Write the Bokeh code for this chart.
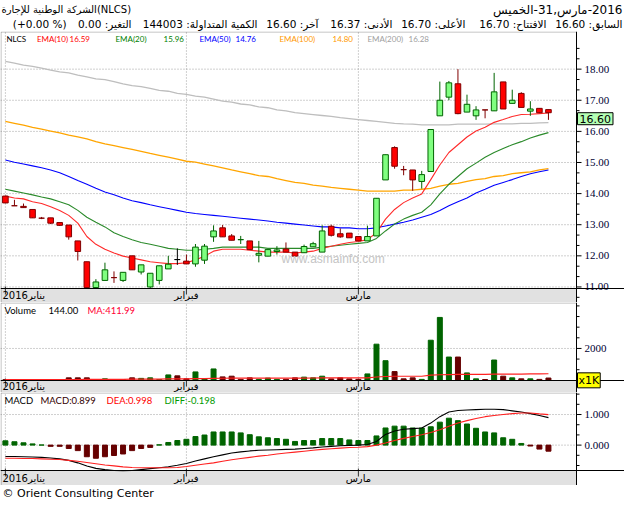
from bokeh.plotting import figure
from bokeh.models import Range1d, Label, ColumnDataSource, Span, BoxAnnotation
from bokeh.layouts import column
from bokeh.embed import file_html
from bokeh.resources import INLINE
import numpy as np

# ---------------- data ----------------
open_ = [13.92, 13.61, 13.59, 13.49, 13.21, 13.22, 13.07, 12.99, 12.48, 11.81,
         10.98, 11.21, 11.30, 11.21, 12.00, 11.48, 11.00, 11.21, 11.58, 11.88,
         11.83, 11.74, 11.86, 12.61, 12.90, 12.64, 12.52, 12.48, 12.02, 11.99,
         12.14, 12.22, 12.12, 12.10, 12.29, 12.12, 12.95, 12.71, 12.73, 12.62,
         12.48, 12.64, 14.44, 15.48, 14.77, 14.76, 14.39, 14.71, 16.50, 17.10,
         17.53, 16.62, 16.50, 16.69, 16.66, 17.59, 16.90, 17.22, 16.65, 16.74, 16.70]
high = [13.93, 13.80, 13.68, 13.49, 13.25, 13.22, 13.07, 12.99, 12.48, 11.81,
        11.25, 11.78, 11.50, 11.47, 12.00, 11.71, 11.44, 11.68, 12.00, 12.24,
        12.04, 12.38, 12.38, 12.98, 12.99, 12.70, 12.64, 12.48, 12.48, 12.20,
        12.31, 12.43, 12.12, 12.36, 12.45, 12.98, 13.00, 12.88, 12.73, 12.62,
        12.97, 13.85, 15.25, 15.52, 14.89, 14.76, 14.73, 16.06, 17.60, 17.62,
        18.00, 17.18, 16.81, 16.69, 17.88, 17.59, 17.34, 17.26, 16.97, 16.74, 16.70]
low = [13.69, 13.61, 13.55, 13.22, 13.18, 13.02, 12.96, 12.52, 11.85, 10.97,
       10.97, 11.21, 11.13, 11.16, 11.55, 11.40, 10.95, 11.08, 11.58, 11.71,
       11.74, 11.65, 11.74, 12.45, 12.61, 12.50, 12.38, 12.20, 11.79, 11.99,
       12.04, 12.12, 11.99, 12.10, 12.29, 12.12, 12.62, 12.58, 12.58, 12.48,
       12.48, 12.64, 14.44, 14.80, 14.59, 14.09, 14.16, 14.71, 16.50, 17.00,
       16.55, 16.62, 16.37, 16.42, 16.66, 16.72, 16.90, 16.77, 16.50, 16.60, 16.37]
close = [13.70, 13.61, 13.55, 13.22, 13.21, 13.05, 12.98, 12.61, 12.14, 10.98,
         11.16, 11.55, 11.30, 11.47, 11.55, 11.71, 11.44, 11.68, 11.73, 11.88,
         11.74, 12.28, 12.31, 12.80, 12.61, 12.50, 12.52, 12.20, 12.08, 12.20,
         12.19, 12.12, 11.99, 12.30, 12.39, 12.80, 12.66, 12.61, 12.58, 12.48,
         12.62, 13.85, 15.25, 14.88, 14.77, 14.44, 14.61, 16.06, 17.00, 17.56,
         16.57, 16.87, 16.69, 16.69, 17.27, 16.72, 17.00, 16.77, 16.72, 16.60, 16.60]

ema10 = [13.92, 13.86, 13.83, 13.74, 13.68, 13.58, 13.46, 13.30, 13.05, 12.62,
         12.37, 12.21, 12.09, 11.99, 11.93, 11.87, 11.81, 11.78, 11.75, 11.75,
         11.78, 11.87, 11.99, 12.15, 12.21, 12.21, 12.21, 12.18, 12.15, 12.12,
         12.12, 12.12, 12.09, 12.12, 12.15, 12.24, 12.31, 12.37, 12.43, 12.46,
         12.52, 12.74, 13.18, 13.49, 13.71, 13.86, 13.99, 14.45, 14.92, 15.32,
         15.57, 15.82, 16.01, 16.13, 16.29, 16.38, 16.48, 16.54, 16.55, 16.57, 16.59]
ema20 = [14.14, 14.08, 14.02, 13.96, 13.89, 13.83, 13.74, 13.64, 13.46, 13.24,
         13.08, 12.93, 12.74, 12.62, 12.52, 12.43, 12.37, 12.31, 12.24, 12.21,
         12.18, 12.18, 12.21, 12.24, 12.28, 12.28, 12.28, 12.28, 12.28, 12.24,
         12.24, 12.24, 12.24, 12.24, 12.24, 12.28, 12.31, 12.34, 12.37, 12.40,
         12.43, 12.56, 12.80, 13.02, 13.18, 13.30, 13.40, 13.64, 13.99, 14.30,
         14.55, 14.80, 14.98, 15.17, 15.32, 15.45, 15.57, 15.67, 15.79, 15.88, 15.96]
ema50 = [15.08, 15.01, 14.95, 14.89, 14.83, 14.76, 14.67, 14.55, 14.42, 14.30,
         14.17, 14.05, 13.96, 13.86, 13.77, 13.71, 13.64, 13.58, 13.52, 13.46,
         13.40, 13.36, 13.33, 13.30, 13.27, 13.24, 13.21, 13.18, 13.15, 13.12,
         13.08, 13.05, 13.02, 12.99, 12.96, 12.93, 12.93, 12.90, 12.90, 12.87,
         12.87, 12.90, 12.96, 13.02, 13.08, 13.15, 13.24, 13.33, 13.46, 13.61,
         13.74, 13.86, 14.02, 14.14, 14.27, 14.36, 14.45, 14.55, 14.64, 14.70, 14.76]
ema100 = [16.32, 16.26, 16.20, 16.13, 16.07, 16.01, 15.95, 15.88, 15.82, 15.76,
          15.67, 15.60, 15.54, 15.48, 15.42, 15.36, 15.29, 15.23, 15.17, 15.11,
          15.04, 15.01, 14.95, 14.89, 14.83, 14.76, 14.70, 14.64, 14.58, 14.55,
          14.48, 14.42, 14.36, 14.33, 14.27, 14.24, 14.20, 14.17, 14.14, 14.11,
          14.08, 14.08, 14.08, 14.08, 14.11, 14.11, 14.14, 14.17, 14.24, 14.30,
          14.33, 14.39, 14.45, 14.48, 14.55, 14.58, 14.64, 14.67, 14.70, 14.76, 14.80]
ema200 = [18.25, 18.19, 18.13, 18.09, 18.03, 17.97, 17.91, 17.88, 17.81, 17.75,
          17.69, 17.66, 17.60, 17.53, 17.47, 17.44, 17.38, 17.32, 17.29, 17.22,
          17.19, 17.13, 17.10, 17.04, 16.97, 16.94, 16.88, 16.85, 16.79, 16.76,
          16.69, 16.66, 16.60, 16.57, 16.54, 16.51, 16.48, 16.44, 16.41, 16.38,
          16.35, 16.32, 16.29, 16.26, 16.24, 16.23, 16.21, 16.21, 16.21, 16.21,
          16.23, 16.23, 16.23, 16.23, 16.24, 16.24, 16.24, 16.26, 16.26, 16.27, 16.28]

volume = [40, 20, 25, 40, 20, 30, 35, 155, 155, 155,
          40, 93, 30, 40, 155, 124, 155, 50, 341, 280,
          93, 528, 90, 714, 217, 260, 60, 155, 60, 140,
          60, 70, 155, 200, 155, 260, 90, 155, 90, 60,
          403, 2267, 1232, 548, 93, 155, 60, 2515, 3944, 1460,
          1460, 466, 93, 50, 1274, 260, 155, 93, 93, 60, 144]
vol_ma = [40, 40, 40, 40, 40, 40, 40, 45, 50, 55,
          60, 62, 64, 66, 70, 74, 78, 80, 90, 95,
          98, 110, 112, 125, 130, 135, 135, 138, 138, 140,
          140, 140, 142, 145, 148, 150, 150, 152, 150, 150,
          160, 210, 240, 255, 255, 258, 258, 330, 350, 360,
          370, 375, 375, 378, 385, 388, 390, 395, 400, 405, 411.99]

macd = [-0.37, -0.37, -0.38, -0.39, -0.40, -0.42, -0.45, -0.50, -0.58, -0.68,
        -0.76, -0.80, -0.83, -0.84, -0.83, -0.80, -0.77, -0.74, -0.71, -0.66,
        -0.60, -0.52, -0.45, -0.38, -0.32, -0.26, -0.22, -0.19, -0.17, -0.16,
        -0.15, -0.14, -0.13, -0.11, -0.09, -0.06, -0.04, -0.02, -0.01, 0.00,
        0.02, 0.12, 0.35, 0.46, 0.52, 0.54, 0.56, 0.72, 0.93, 1.08,
        1.13, 1.15, 1.16, 1.17, 1.17, 1.16, 1.12, 1.08, 1.03, 0.97, 0.899]
dea = [-0.43, -0.43, -0.44, -0.44, -0.45, -0.46, -0.47, -0.50, -0.53, -0.57,
       -0.61, -0.65, -0.68, -0.71, -0.73, -0.74, -0.74, -0.74, -0.74, -0.73,
       -0.70, -0.66, -0.62, -0.58, -0.53, -0.48, -0.44, -0.40, -0.36, -0.33,
       -0.29, -0.26, -0.23, -0.20, -0.17, -0.14, -0.12, -0.10, -0.08, -0.07,
       -0.05, 0.00, 0.07, 0.15, 0.22, 0.28, 0.34, 0.41, 0.50, 0.62,
       0.72, 0.80, 0.87, 0.93, 0.97, 1.00, 1.03, 1.05, 1.05, 1.02, 0.998]
diff = [0.14, 0.11, 0.075, 0.04, 0.005, -0.04, -0.04, -0.11, -0.18, -0.38,
        -0.43, -0.38, -0.34, -0.29, -0.18, -0.11, -0.075, 0.01, 0.086, 0.15,
        0.19, 0.28, 0.33, 0.43, 0.43, 0.43, 0.40, 0.34, 0.27, 0.24,
        0.215, 0.19, 0.12, 0.15, 0.15, 0.215, 0.215, 0.215, 0.17, 0.15,
        0.15, 0.30, 0.56, 0.62, 0.62, 0.56, 0.56, 0.60, 0.75, 0.88,
        0.80, 0.69, 0.55, 0.43, 0.40, 0.24, 0.19, 0.054, -0.03, -0.13, -0.198]

month_starts = [0, 20, 39]
month_labels = ["يناير2016", "فبراير", "مارس"]
price_ticks = [11, 12, 13, 14, 15, 16, 17, 18]
volume_ticks = [2000]
macd_ticks = [0, 1]

# header line 2 segments (visual order right -> left)
header_segments = ["السابق: 16.60", "الافتتاح: 16.70", "الأعلى: 16.70", "الأدنى: 16.37",
                   "آخر: 16.60", "الكمية المتداولة: 144003", "التغير: 0.00", "(+0.00 %)"]
header_right_px = [622, 546, 465, 392, 318, 257, 131, 66]

# ---------------- layout ----------------
W = 624
FW = 576                      # frame width of the chart area (axis to the right)
PXU = 9.051                   # pixels per candle
X0 = -0.54
n = len(close)
idx = list(range(n))
xr = Range1d(X0, X0 + W / PXU)
AX = X0 + FW / PXU            # x position of the price axis line
UX = 1.0 / PXU                # one pixel in x units
FONT = "DejaVu Sans"
LFONT = "Lato"
GRID = "#A0A0A0"


def panel(height, panel_px, strip_px, lo, hi, ticks, minor, fmt):
    upp = (hi - lo) / panel_px
    bot = lo - strip_px * upp
    p = figure(width=W, height=height, x_range=xr, y_range=Range1d(bot, hi),
               toolbar_location=None, output_backend="svg",
               x_axis_location=None, y_axis_location=None, min_border=0)
    p.outline_line_color = None
    p.xgrid.visible = False
    p.ygrid.visible = False
    # date strip
    p.add_layout(BoxAnnotation(left=X0, right=AX, top=lo, bottom=bot, fill_color="#E1E1E1",
                               fill_alpha=1.0, line_color=None, level="underlay"))
    # frame
    p.add_layout(BoxAnnotation(left=X0 + 0.5 * UX, right=AX, top=hi - 0.5 * upp, bottom=bot,
                               fill_alpha=0, line_color="black", line_width=1, level="guide"))
    p.add_layout(Span(location=lo, dimension="width", line_color="black", line_width=1))
    # horizontal grid
    k = len(ticks)
    p.segment(x0=[X0] * k, x1=[AX] * k, y0=ticks, y1=ticks, line_color=GRID,
              line_dash="1 2", line_width=1)
    # month grid + ticks
    m = len(month_starts)
    p.segment(x0=month_starts, x1=month_starts, y0=[lo] * m, y1=[hi] * m,
              line_color=GRID, line_dash="1 2", line_width=1)
    p.segment(x0=month_starts, x1=month_starts, y0=[lo - 6 * upp] * m, y1=[lo + 2 * upp] * m,
              line_color="#303030", line_width=1)
    ymid = lo - strip_px * upp / 2
    for i, (ms, lab) in enumerate(zip(month_starts, month_labels)):
        p.add_layout(Label(x=X0 if i == 0 else ms, y=ymid, text=lab, x_offset=2 if i == 0 else 0,
                           text_align="left" if i == 0 else "center", text_baseline="middle",
                           text_font=FONT, text_font_size="10px", text_color="black"))
    # right axis (drawn on the same scale)
    p.add_layout(Span(location=AX, dimension="height", line_color="black", line_width=1))
    p.segment(x0=[AX] * k, x1=[AX + 5 * UX] * k, y0=ticks, y1=ticks, line_color="black")
    mm = len(minor)
    p.segment(x0=[AX] * mm, x1=[AX + 3 * UX] * mm, y0=minor, y1=minor, line_color="black")
    p.text(x=[AX] * k, y=ticks, text=[fmt % t for t in ticks], x_offset=8,
           text_baseline="middle", text_font=FONT, text_font_size="11px", text_color="#000033")
    return p, upp


def legend_item(p, xpx, y, text, color, size):
    p.add_layout(Label(x=xpx, y=y, x_units="screen", text=text, text_color=color,
                       text_font=LFONT, text_font_size=size, text_baseline="middle"))


# ---------------- header ----------------
hp = figure(width=W, height=31, x_range=Range1d(0, W), y_range=Range1d(31, 0),
            toolbar_location=None, output_backend="svg", x_axis_location=None,
            y_axis_location=None, min_border=0)
hp.outline_line_color = None
hp.grid.visible = False
hp.add_layout(Label(x=1, y=9, text="الشركة الوطنية للإجارة(NLCS)", text_font=FONT,
                    text_font_size="10px", text_baseline="middle", text_color="black"))
hp.add_layout(Label(x=622, y=9, text="-2016", text_font=FONT, text_font_size="12px",
                    text_baseline="middle", text_align="right", text_color="black"))
hp.add_layout(Label(x=587, y=9, text="مارس,31-الخميس", text_font=FONT, text_font_size="12px",
                    text_baseline="middle", text_align="right", text_color="black"))
for seg, xr_px in zip(header_segments, header_right_px):
    hp.add_layout(Label(x=xr_px, y=23, text=seg, text_font=FONT, text_font_size="10.5px",
                        text_baseline="middle", text_align="right", text_color="black"))

# ---------------- main price panel ----------------
minor_p = [v for v in np.arange(10 + 2 / 3, 19.2, 1 / 3) if abs(v - round(v)) > 0.01]
p1, upp1 = panel(271, 257, 14, 10.95, 19.21, price_ticks, minor_p, "%.2f")

p1.add_layout(Label(x=281, y=11.9, x_units="screen", text="www.asmainfo.com",
                    text_font="Liberation Sans", text_font_size="12px", text_color="#C4C4C4",
                    text_baseline="middle"))

p1.line(idx, ema200, line_color="#BEBEBE", line_width=1.3)
p1.line(idx, ema100, line_color="#FFA500", line_width=1.3)
p1.line(idx, ema50, line_color="#0000FF", line_width=1.1)
p1.line(idx, ema20, line_color="#2A8A2A", line_width=1.1)
p1.line(idx, ema10, line_color="#FF2A2A", line_width=1.1)

fills, lines = [], []
for i in range(n):
    if close[i] > open_[i]:
        fills.append("#80FF80"); lines.append("#006400")
    elif close[i] < open_[i]:
        fills.append("#FF0000"); lines.append("#800000")
    else:
        prev = close[i - 1] if i > 0 else close[i]
        c = "#006400" if close[i] > prev else "#800000"
        if i == 19:
            c = "#000000"
        fills.append(c); lines.append(c)
src = ColumnDataSource(dict(x=idx, o=open_, h=high, l=low, c=close,
                            top=[max(a, b) for a, b in zip(open_, close)],
                            bottom=[min(a, b) for a, b in zip(open_, close)],
                            fill=fills, line=lines))
p1.segment(x0="x", y0="l", x1="x", y1="h", line_color="line", line_width=1, source=src)
p1.vbar(x="x", width=0.62, top="top", bottom="bottom", fill_color="fill",
        line_color="line", line_width=1, source=src)

ylg = 19.21 - 7 * upp1
for xpx, t, col in [(6, "NLCS", "black"), (36.5, "EMA(10)", "#FF0000"), (69, "16.59", "#FF0000"),
                    (115, "EMA(20)", "#008000"), (163, "15.96", "#008000"),
                    (199, "EMA(50)", "#0000FF"), (235, "14.76", "#0000FF"),
                    (279, "EMA(100)", "#FF9900"), (332, "14.80", "#FF9900"),
                    (367, "EMA(200)", "#A0A0A0"), (408, "16.28", "#A0A0A0")]:
    legend_item(p1, xpx, ylg, t, col, "8px")

p1.add_layout(Label(x=AX, y=close[-1], x_offset=1, text="%.2f" % close[-1],
                    text_font=FONT, text_font_size="11px", text_color="black",
                    text_baseline="top", background_fill_color="#B4FFB4",
                    border_line_color="black", padding=2))

# ---------------- volume panel ----------------
minor_v = [v for v in np.arange(2000 / 3, 4880, 2000 / 3) if abs(v - 2000) > 1]
p2, upp2 = panel(90, 78, 12, -10, 4880, volume_ticks, minor_v, "%d")
vcol = ["#006400" if close[i] > open_[i] else "#660000" for i in range(n)]
p2.vbar(x=idx, width=0.55, top=volume, bottom=0, fill_color=vcol, line_color=vcol)
p2.line(idx, vol_ma, line_color="#FF2020", line_width=1.2)
ylv = 4880 - 8 * upp2
legend_item(p2, 4, ylv, "Volume", "black", "9.5px")
legend_item(p2, 48, ylv, "%.2f" % volume[-1], "black", "9.5px")
legend_item(p2, 87, ylv, "MA:%.2f" % vol_ma[-1], "#FF0033", "9.5px")
p2.add_layout(Label(x=AX, y=0, x_offset=1, text="x1K", text_font=FONT,
                    text_font_size="11px", text_color="black", text_baseline="middle",
                    background_fill_color="#FFFF00", border_line_color="black", padding=1))

# ---------------- MACD panel ----------------
minor_m = [v / 3 for v in range(-2, 6) if v % 3 != 0]
p3, upp3 = panel(93, 78, 15, -0.83, 1.72, macd_ticks, minor_m, "%.3f")
hcol = ["#006400" if v >= 0 else "#660000" for v in diff]
p3.vbar(x=idx, width=0.55, top=diff, bottom=0, fill_color=hcol, line_color=hcol)
p3.line(idx, macd, line_color="black", line_width=1.1)
p3.line(idx, dea, line_color="#FF2020", line_width=1.1)
ylm = 1.72 - 8 * upp3
legend_item(p3, 4, ylm, "MACD", "black", "9.5px")
legend_item(p3, 40, ylm, "MACD:%.3f" % macd[-1], "#330000", "9.5px")
legend_item(p3, 106, ylm, "DEA:%.3f" % dea[-1], "#FF0000", "9.5px")
legend_item(p3, 164, ylm, "DIFF:%.3f" % diff[-1], "#009900", "9.5px")

# ---------------- footer ----------------
fp = figure(width=W, height=15, x_range=Range1d(0, W), y_range=Range1d(15, 0),
            toolbar_location=None, output_backend="svg", x_axis_location=None,
            y_axis_location=None, min_border=0)
fp.outline_line_color = None
fp.grid.visible = False
fp.add_layout(Label(x=2, y=8, text="© Orient Consulting Center", text_font=FONT,
                    text_font_size="11px", text_baseline="middle", text_color="black"))

layout = column(hp, p1, p2, p3, fp, spacing=0)
open("out.html", "w").write(file_html(layout, INLINE))
